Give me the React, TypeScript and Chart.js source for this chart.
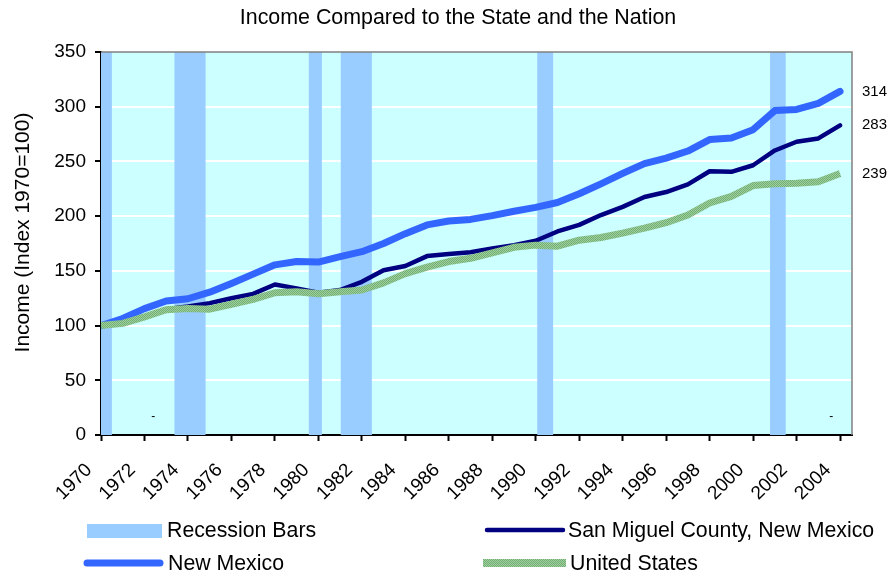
import { useEffect, useRef } from "react";
import { Chart, registerables } from "chart.js";

Chart.register(...registerables);

const years = [
  1970, 1971, 1972, 1973, 1974, 1975, 1976, 1977, 1978, 1979,
  1980, 1981, 1982, 1983, 1984, 1985, 1986, 1987, 1988, 1989,
  1990, 1991, 1992, 1993, 1994, 1995, 1996, 1997, 1998, 1999,
  2000, 2001, 2002, 2003, 2004,
];

const sanMiguel = [
  100, 102, 108.5, 115, 117.5, 120.5, 125, 129, 137.5, 134,
  130, 132.5, 140, 150.5, 154.5, 163.5, 165.5, 167, 170.5, 173.5,
  177.5, 186, 192, 201, 208.5, 217.5, 222, 229, 241, 240.5,
  246.5, 260, 268, 271, 283,
];

const newMexico = [
  100, 106.5, 115.5, 122.5, 124.5, 130.5, 138.5, 147, 155.5, 158.5,
  158, 163, 167.5, 175, 184, 192, 195.5, 197, 200.5, 204.5,
  208, 212.5, 220.5, 229.5, 239, 248, 253, 259.5, 270, 271.5,
  279, 296.5, 297.5, 303, 314,
];

const unitedStates = [
  100, 102, 108, 114.5, 115.5, 115, 119.5, 124, 130, 131,
  129, 131, 132.5, 139, 147.5, 153.5, 158.5, 161.5, 166.5, 171.5,
  173.5, 172.5, 178, 180.5, 184.5, 189, 194, 201, 212, 218,
  228, 229.5, 230, 231.5, 239,
];

const recessionStart = [1970, 1973.38, 1979.56, 1981.03, 1990.07, 2000.78];
const recessionEnd = [1970.5, 1974.81, 1980.16, 1982.46, 1990.8, 2001.5];

const dashMarkYears = [1972.4, 2003.6];
const dashMarkValue = 17;

const TITLE = "Income Compared to the State and the Nation";
const Y_TITLE = "Income (Index 1970=100)";
const RECESSION_LABEL = "Recession Bars";

const FONT = '"Liberation Sans", Arial, sans-serif';
const RECESSION_COLOR = "#99CCFF";
const NM_COLOR = "#3366FF";
const SM_COLOR = "#000080";

function makeGreenPattern(): CanvasPattern | string {
  const c = document.createElement("canvas");
  c.width = 2;
  c.height = 2;
  const g = c.getContext("2d");
  if (!g) return "#99CC99";
  g.fillStyle = "#9FD09F";
  g.fillRect(0, 0, 2, 2);
  g.fillStyle = "#72AE72";
  g.fillRect(0, 0, 1, 1);
  g.fillRect(1, 1, 1, 1);
  const p = g.createPattern(c, "repeat");
  return p || "#99CC99";
}

export default function App() {
  const ref = useRef<HTMLCanvasElement | null>(null);

  useEffect(() => {
    const canvas = ref.current;
    if (!canvas) return;
    const green = makeGreenPattern();

    const toPoints = (arr: number[]) => years.map((y, i) => ({ x: y, y: arr[i] }));

    const decorPlugin = {
      id: "decor",
      beforeDraw(chart: any) {
        const { ctx, chartArea } = chart;
        ctx.save();
        ctx.fillStyle = "#CCFFFF";
        ctx.fillRect(chartArea.left, chartArea.top, chartArea.right - chartArea.left, chartArea.bottom - chartArea.top);
        ctx.restore();
      },
      beforeDatasetsDraw(chart: any) {
        const { ctx, chartArea, scales } = chart;
        const xs = scales.x;
        ctx.save();
        ctx.fillStyle = RECESSION_COLOR;
        for (let i = 0; i < recessionStart.length; i++) {
          const x0 = Math.max(chartArea.left, xs.getPixelForValue(recessionStart[i]));
          const x1 = xs.getPixelForValue(recessionEnd[i]);
          ctx.fillRect(x0, chartArea.top, x1 - x0, chartArea.bottom - chartArea.top);
        }
        ctx.fillStyle = "#000";
        ctx.font = `12px ${FONT}`;
        ctx.textAlign = "center";
        ctx.textBaseline = "middle";
        for (const yr of dashMarkYears) {
          ctx.fillText("-", xs.getPixelForValue(yr), scales.y.getPixelForValue(dashMarkValue));
        }
        ctx.restore();
      },
      afterDatasetsDraw(chart: any) {
        const { ctx, chartArea, scales } = chart;
        ctx.save();
        ctx.strokeStyle = "#808080";
        ctx.lineWidth = 1.5;
        ctx.beginPath();
        ctx.moveTo(chartArea.left, chartArea.top);
        ctx.lineTo(chartArea.right, chartArea.top);
        ctx.lineTo(chartArea.right, chartArea.bottom);
        ctx.stroke();
        ctx.fillStyle = "#000";
        ctx.font = `15px ${FONT}`;
        ctx.textAlign = "left";
        ctx.textBaseline = "middle";
        chart.data.datasets.forEach((ds: any) => {
          const last = ds.data[ds.data.length - 1];
          ctx.fillText(String(Math.round(last.y)), chartArea.right + 10, scales.y.getPixelForValue(last.y));
        });
        ctx.restore();
      },
      afterDraw(chart: any) {
        const { ctx, chartArea, scales } = chart;
        const ds = chart.data.datasets;
        const us = ds[0];
        const nm = ds[1];
        const sm = ds[2];
        ctx.save();
        // chart title
        ctx.fillStyle = "#000";
        ctx.font = `21.4px ${FONT}`;
        ctx.textAlign = "center";
        ctx.textBaseline = "middle";
        ctx.fillText(TITLE, 458, 18);
        // y axis title
        ctx.save();
        ctx.font = `21px ${FONT}`;
        ctx.translate(23, 232.5);
        ctx.rotate(-Math.PI / 2);
        ctx.fillText(Y_TITLE, 0, 0);
        ctx.restore();
        // x tick labels, rotated 45 degrees
        ctx.font = `19px ${FONT}`;
        ctx.textAlign = "right";
        ctx.textBaseline = "middle";
        for (const t of scales.x.ticks) {
          const px = scales.x.getPixelForValue(t.value);
          ctx.save();
          ctx.translate(px - 12, chartArea.bottom + 32);
          ctx.rotate(-Math.PI / 4);
          ctx.fillText(String(t.value), 0, 0);
          ctx.restore();
        }
        // legend
        ctx.font = `21.3px ${FONT}`;
        ctx.textAlign = "left";
        ctx.textBaseline = "middle";
        ctx.fillStyle = RECESSION_COLOR;
        ctx.fillRect(87, 524, 75, 14);
        ctx.fillStyle = "#000";
        ctx.fillText(RECESSION_LABEL, 167, 531);
        ctx.strokeStyle = sm.borderColor;
        ctx.lineWidth = sm.borderWidth;
        ctx.lineCap = "round";
        ctx.beginPath();
        ctx.moveTo(487, 530);
        ctx.lineTo(563, 530);
        ctx.stroke();
        ctx.fillText(sm.label, 568, 531);
        ctx.strokeStyle = nm.borderColor;
        ctx.lineWidth = nm.borderWidth;
        ctx.beginPath();
        ctx.moveTo(87, 563);
        ctx.lineTo(160, 563);
        ctx.stroke();
        ctx.fillText(nm.label, 168, 564);
        ctx.fillStyle = us.borderColor;
        ctx.fillRect(483, 559, 83, 8);
        ctx.fillStyle = "#000";
        ctx.fillText(us.label, 570, 564);
        ctx.restore();
      },
    };

    const chart = new Chart(canvas, {
      type: "line",
      data: {
        datasets: [
          {
            label: "United States",
            data: toPoints(unitedStates),
            borderColor: green as any,
            backgroundColor: green as any,
            borderWidth: 7,
            pointRadius: 0,
            tension: 0,
            borderJoinStyle: "round",
          },
          {
            label: "New Mexico",
            data: toPoints(newMexico),
            borderColor: NM_COLOR,
            backgroundColor: NM_COLOR,
            borderWidth: 7,
            pointRadius: 0,
            tension: 0,
            borderCapStyle: "round",
            borderJoinStyle: "round",
          },
          {
            label: "San Miguel County, New Mexico",
            data: toPoints(sanMiguel),
            borderColor: SM_COLOR,
            backgroundColor: SM_COLOR,
            borderWidth: 4.5,
            pointRadius: 0,
            tension: 0,
            borderCapStyle: "round",
            borderJoinStyle: "round",
          },
        ],
      },
      options: {
        responsive: false,
        animation: false,
        events: [],
        layout: { padding: { left: 0, right: 38, top: 52, bottom: 0 } },
        plugins: {
          legend: { display: false },
          tooltip: { enabled: false },
          title: { display: false },
        },
        scales: {
          x: {
            type: "linear",
            min: 1970,
            max: 2004.55,
            afterFit(scale: any) {
              scale.height = 138;
            },
            ticks: {
              stepSize: 2,
              includeBounds: false,
              autoSkip: false,
              display: false,
            },
            grid: {
              drawOnChartArea: false,
              drawTicks: true,
              tickLength: 6,
              tickColor: "#000",
              tickWidth: 2,
            },
            border: { display: true, color: "#000", width: 2 },
          },
          y: {
            min: 0,
            max: 350,
            afterFit(scale: any) {
              scale.width = 101;
            },
            ticks: {
              stepSize: 50,
              color: "#000",
              padding: 9,
              font: { family: FONT, size: 19 },
            },
            grid: {
              color: (c: any) =>
                c.tick && (c.tick.value === 0 || c.tick.value === 350) ? "rgba(0,0,0,0)" : "#FFFFFF",
              lineWidth: 2,
              drawTicks: true,
              tickLength: 6,
              tickColor: "#000",
              tickWidth: 2,
            },
            border: { display: true, color: "#000", width: 2 },
            title: { display: false, text: Y_TITLE },
          },
        },
      },
      plugins: [decorPlugin],
    } as any);

    return () => chart.destroy();
  }, []);

  return (
    <div style={{ position: "fixed", left: 0, top: 0, width: 890, height: 573, background: "#fff" }}>
      <canvas ref={ref} width={890} height={573} style={{ display: "block" }} />
    </div>
  );
}
